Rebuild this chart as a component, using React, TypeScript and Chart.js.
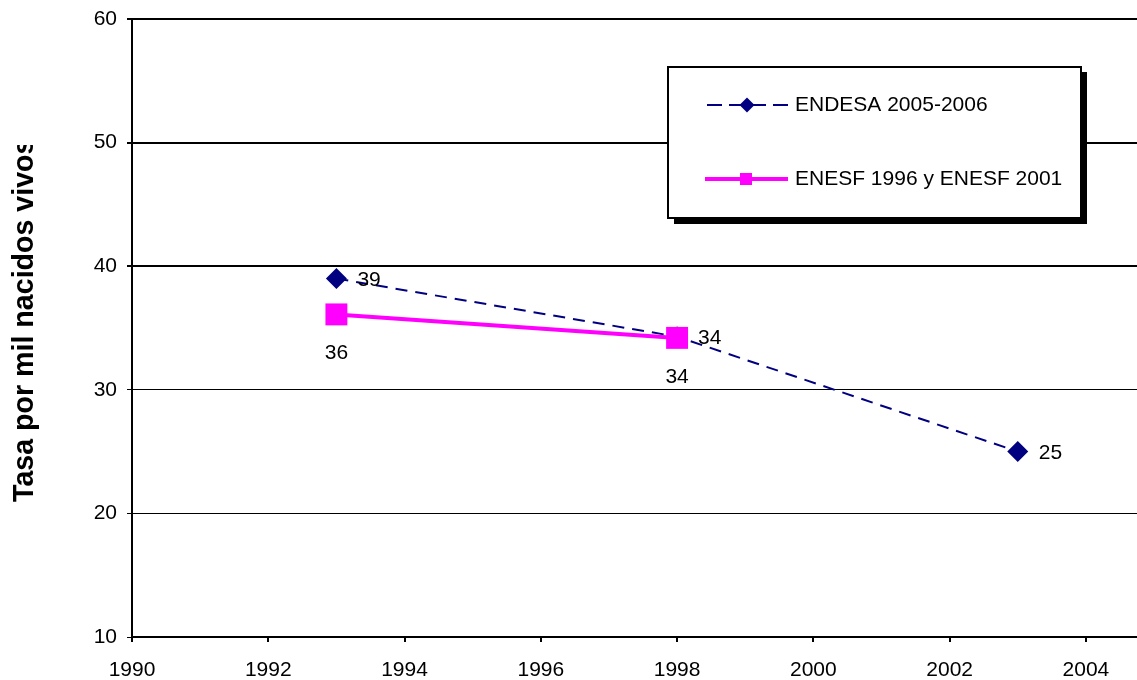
import React, { useEffect, useRef } from 'react';
import { Chart, registerables } from 'chart.js';

Chart.register(...registerables);

// ---- data ----
const seriesNames = ['ENDESA 2005-2006', 'ENESF 1996 y ENESF 2001'];
const endesaYears = [1993, 1998, 2003];
const endesaValues = [39, 34.3, 25];
const endesaLabels = ['39', '34', '25'];
const enesfYears = [1993, 1998];
const enesfValues = [36.1, 34.2];
const enesfLabels = ['36', '34'];
const xTicks = [1990, 1992, 1994, 1996, 1998, 2000, 2002, 2004];
const yTicks = [10, 20, 30, 40, 50, 60];
const yTitle = 'Tasa por mil nacidos vivos';

const FONT = '"Liberation Sans", Arial, sans-serif';
const NAVY = '#000080';
const MAGENTA = '#FF00FF';

const pointLabelsPlugin = {
  id: 'pointLabels',
  afterDatasetsDraw(chart: any) {
    const ctx = chart.ctx;
    ctx.save();
    ctx.font = `21px ${FONT}`;
    ctx.fillStyle = '#000';
    ctx.textBaseline = 'middle';
    const endMeta = chart.getDatasetMeta(0);
    endMeta.data.forEach((pt: any, j: number) => {
      ctx.textAlign = 'left';
      ctx.fillText(endesaLabels[j], pt.x + 21, pt.y + 2);
    });
    const enMeta = chart.getDatasetMeta(1);
    enMeta.data.forEach((pt: any, j: number) => {
      ctx.textAlign = 'center';
      ctx.fillText(enesfLabels[j], pt.x, pt.y + 39);
    });
    ctx.restore();
  },
};

const yTitlePlugin = {
  id: 'yTitleClipped',
  afterDraw(chart: any) {
    const ctx = chart.ctx;
    ctx.save();
    ctx.beginPath();
    ctx.rect(0, 145, 120, 535);
    ctx.clip();
    ctx.translate(33, 320.2);
    ctx.rotate(-Math.PI / 2);
    ctx.font = `bold 28.6px ${FONT}`;
    ctx.fillStyle = '#000';
    ctx.textAlign = 'center';
    ctx.textBaseline = 'alphabetic';
    ctx.fillText(yTitle, 0, 0);
    ctx.restore();
  },
};

const legendPlugin = {
  id: 'boxLegend',
  afterDraw(chart: any) {
    const ctx = chart.ctx;
    ctx.save();
    ctx.fillStyle = '#000';
    ctx.fillRect(674, 72, 413, 152);
    ctx.fillStyle = '#fff';
    ctx.fillRect(668, 67, 413, 151);
    ctx.strokeStyle = '#000';
    ctx.lineWidth = 2;
    ctx.strokeRect(668, 67, 413, 151);

    const y1 = 105;
    ctx.strokeStyle = NAVY;
    ctx.lineWidth = 2;
    ctx.setLineDash([15, 7]);
    ctx.beginPath();
    ctx.moveTo(707, y1);
    ctx.lineTo(788, y1);
    ctx.stroke();
    ctx.setLineDash([]);
    ctx.fillStyle = NAVY;
    ctx.beginPath();
    ctx.moveTo(747, y1 - 7.5);
    ctx.lineTo(754.5, y1);
    ctx.lineTo(747, y1 + 7.5);
    ctx.lineTo(739.5, y1);
    ctx.closePath();
    ctx.fill();

    const y2 = 179;
    ctx.strokeStyle = MAGENTA;
    ctx.lineWidth = 4;
    ctx.beginPath();
    ctx.moveTo(705, y2);
    ctx.lineTo(788, y2);
    ctx.stroke();
    ctx.fillStyle = MAGENTA;
    ctx.fillRect(740, y2 - 6, 12, 12);

    ctx.fillStyle = '#000';
    ctx.font = `21px ${FONT}`;
    ctx.textAlign = 'left';
    ctx.textBaseline = 'middle';
    ctx.fillText(seriesNames[0], 795, y1);
    ctx.fillText(seriesNames[1], 795, y2);
    ctx.restore();
  },
};

export default function App() {
  const ref = useRef<HTMLCanvasElement | null>(null);

  useEffect(() => {
    if (!ref.current) return;
    Chart.defaults.font.family = FONT;
    const chart = new Chart(ref.current, {
      type: 'line',
      data: {
        datasets: [
          {
            label: seriesNames[0],
            data: endesaYears.map((x, i) => ({ x, y: endesaValues[i] })),
            borderColor: NAVY,
            backgroundColor: NAVY,
            borderWidth: 2,
            borderDash: [12, 8],
            pointStyle: 'rectRot',
            pointRadius: 10.5,
            pointBorderWidth: 0,
            pointBackgroundColor: NAVY,
            tension: 0,
            order: 1,
          },
          {
            label: seriesNames[1],
            data: enesfYears.map((x, i) => ({ x, y: enesfValues[i] })),
            borderColor: MAGENTA,
            backgroundColor: MAGENTA,
            borderWidth: 4,
            pointStyle: 'rect',
            pointRadius: 15.5,
            pointBorderWidth: 0,
            pointBackgroundColor: MAGENTA,
            tension: 0,
            order: 0,
          },
        ],
      },
      options: {
        animation: false,
        responsive: false,
        maintainAspectRatio: false,
        layout: { autoPadding: false, padding: { top: 19, left: 0, right: 0, bottom: 0 } },
        plugins: {
          legend: { display: false },
          tooltip: { enabled: false },
        },
        scales: {
          x: {
            type: 'linear',
            min: 1990,
            max: 2004.75,
            afterBuildTicks: (s: any) => {
              s.ticks = xTicks.map((v) => ({ value: v }));
            },
            afterFit: (s: any) => {
              s.height = 43;
              s.paddingRight = 0;
              s.paddingLeft = 0;
            },
            grid: { drawOnChartArea: false, color: '#000', lineWidth: 2, tickLength: 5 },
            border: { display: true, color: '#000', width: 2 },
            ticks: {
              color: '#000',
              font: { size: 21 },
              padding: 16,
              maxRotation: 0,
              autoSkip: false,
              callback: (v: any) => String(v),
            },
          },
          y: {
            type: 'linear',
            min: 10,
            max: 60,
            afterBuildTicks: (s: any) => {
              s.ticks = yTicks.map((v) => ({ value: v }));
            },
            afterFit: (s: any) => {
              s.width = 132;
              s.paddingTop = 0;
              s.paddingBottom = 0;
            },
            grid: {
              color: '#000',
              lineWidth: (c: any) => (c.tick && c.tick.value >= 40 ? 2 : 1),
              tickLength: 5,
            },
            border: { display: true, color: '#000', width: 2 },
            ticks: {
              color: '#000',
              font: { size: 21 },
              padding: 10,
              callback: (v: any) => String(v),
            },
          },
        },
      },
      plugins: [pointLabelsPlugin, yTitlePlugin, legendPlugin],
    } as any);
    return () => chart.destroy();
  }, []);

  return (
    <div style={{ position: 'fixed', left: 0, top: 0, width: 1137, height: 680, background: '#fff' }}>
      <canvas ref={ref} width={1137} height={680} style={{ width: 1137, height: 680, display: 'block' }} />
    </div>
  );
}
